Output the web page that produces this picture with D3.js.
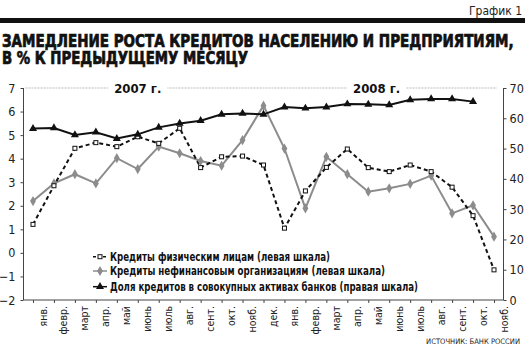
<!DOCTYPE html>
<html><head><meta charset="utf-8">
<script src="https://cdn.jsdelivr.net/npm/d3@7"></script>
<style>
html,body{margin:0;padding:0;background:#fff;}
svg{display:block;}
text{font-family:"DejaVu Sans Condensed","Liberation Sans",sans-serif;font-style:normal;}
text.nb{font-family:"Liberation Sans Narrow","DejaVu Sans Condensed","Liberation Sans",sans-serif;}
</style></head>
<body>
<script>
const months = ["янв.","февр.","март","апр.","май","июнь","июль","авг.","сент.","окт.","нояб.","дек.",
                "янв.","февр.","март","апр.","май","июнь","июль","авг.","сент.","окт.","нояб."];
const households = [1.21, 2.85, 4.44, 4.68, 4.51, 4.93, 4.65, 5.29, 3.62, 4.08, 4.11, 3.73,
                    1.05, 2.63, 3.63, 4.41, 3.62, 3.45, 3.73, 3.45, 2.79, 1.58, -0.72];
const corporates = [2.2, 2.95, 3.34, 2.95, 4.02, 3.56, 4.51, 4.23, 3.90, 3.70, 4.79, 6.25,
                    4.43, 1.89, 4.08, 3.34, 2.60, 2.74, 2.93, 3.28, 1.68, 2.02, 0.69];
const share = [56.6, 56.8, 54.5, 55.4, 53.3, 54.7, 57.0, 58.3, 59.2, 61.3, 61.6, 61.3,
               63.7, 63.3, 63.7, 64.7, 64.6, 64.4, 66.1, 66.4, 66.4, 65.5];
const leftTicks = [-2,-1,0,1,2,3,4,5,6,7];
const rightTicks = [0,10,20,30,40,50,60,70];
const years = [{label:"2007 г.", at:5.0},{label:"2008 г.", at:16.4}];
const legendLabels = ["Кредиты физическим лицам (левая шкала)",
                      "Кредиты нефинансовым организациям (левая шкала)",
                      "Доля кредитов в совокупных активах банков (правая шкала)"];
const title1 = "ЗАМЕДЛЕНИЕ РОСТА КРЕДИТОВ НАСЕЛЕНИЮ И ПРЕДПРИЯТИЯМ,";
const title2 = "В % К ПРЕДЫДУЩЕМУ МЕСЯЦУ";

const W = 525, H = 350;
const svg = d3.select("body").append("svg").attr("width", W).attr("height", H);

function fitFont(sel, maxW, start, stretch) {
  let fs = start;
  sel.attr("font-size", fs);
  let w = sel.node().getComputedTextLength();
  if (w > maxW) { fs = fs * maxW / w; sel.attr("font-size", fs); }
  else if (stretch) { sel.attr("textLength", maxW).attr("lengthAdjust","spacingAndGlyphs"); }
  return sel;
}

// header
fitFont(svg.append("text").attr("x", 522).attr("y", 14.5).attr("text-anchor","end")
  .attr("fill","#222").text("График 1"), 53, 13);
svg.append("rect").attr("x",0).attr("y",18).attr("width",W).attr("height",5).attr("fill","#111");
const t1 = svg.append("text").attr("class","nb").attr("x",0).attr("y",0).attr("font-weight","900")
  .attr("fill","#111").attr("stroke","#111").attr("stroke-width",0.6).text(title1);
fitFont(t1, 512, 18, true);
const fsTitle = +t1.attr("font-size");
const kY = Math.min(1.25, 18 / fsTitle);
t1.attr("transform", `translate(2,47) scale(1,${kY})`);
const t2 = svg.append("text").attr("class","nb").attr("x",0).attr("y",0).attr("font-weight","900")
  .attr("fill","#111").attr("stroke","#111").attr("stroke-width",0.6).text(title2);
fitFont(t2, 246, fsTitle, true);
t2.attr("transform", `translate(2,63.5) scale(1,${kY})`);

// scales
const x = d3.scalePoint().domain(d3.range(months.length)).range([33, 494]);
const yL = d3.scaleLinear().domain([-2, 7]).range([300, 88]);
const yR = d3.scaleLinear().domain([0, 70]).range([300, 88]);
const plotL = 23.5, plotR = 503.5;

// top dotted grid line
svg.append("line").attr("x1", plotL+2).attr("x2", 497).attr("y1", yL(7)).attr("y2", yL(7))
  .attr("stroke","#bbb").attr("stroke-width",1).attr("stroke-dasharray","2,1");

// year labels
years.forEach(yv => {
  const t = svg.append("text").attr("class","nb").attr("x", x(0) + yv.at*(x(1)-x(0))).attr("y", yL(7)+4.5)
    .attr("text-anchor","middle").attr("font-size",13).attr("font-weight","bold").attr("fill","#111")
    .text(yv.label);
  const bb = t.node().getBBox();
  svg.insert("rect", "text:last-of-type").attr("x", bb.x-6).attr("y", bb.y).attr("width", bb.width+12)
    .attr("height", bb.height).attr("fill","#fff");
});

// left axis
const gL = svg.append("g").attr("transform", `translate(${plotL},0)`)
  .call(d3.axisLeft(yL).tickValues(leftTicks).tickSize(3).tickPadding(5).tickFormat(d3.format("d")));
gL.select(".domain").remove();
gL.selectAll("line").attr("stroke","#444");
gL.selectAll("text").attr("font-size",12.5).attr("fill","#222").attr("font-family",null);
svg.append("line").attr("x1",plotL).attr("x2",plotL).attr("y1",yL(7)).attr("y2",yL(-2)).attr("stroke","#444");

// right axis
const gR = svg.append("g").attr("transform", `translate(${plotR},0)`)
  .call(d3.axisRight(yR).tickValues(rightTicks).tickSize(3).tickPadding(3).tickFormat(d3.format("d")));
gR.select(".domain").remove();
gR.selectAll("line").attr("stroke","#444");
gR.selectAll("text").attr("font-size",12.5).attr("fill","#222").attr("font-family",null);
svg.append("line").attr("x1",plotR).attr("x2",plotR).attr("y1",yR(70)).attr("y2",yR(0)).attr("stroke","#444");

// bottom axis
const gB = svg.append("g").attr("transform", `translate(0,${yL(-2)})`)
  .call(d3.axisBottom(x).tickSize(3).tickFormat(i => months[i]));
gB.select(".domain").remove();
gB.selectAll("line").attr("stroke","#444");
gB.selectAll("text").attr("font-size",10.5).attr("fill","#222").attr("font-family",null)
  .attr("text-anchor","end").attr("dominant-baseline","central")
  .attr("x",0).attr("y",0).attr("dy",null)
  .attr("transform","translate(9,6) rotate(-90)");
svg.append("line").attr("x1",plotL).attr("x2",plotR).attr("y1",yL(-2)).attr("y2",yL(-2)).attr("stroke","#444");

// series
const lineL = d3.line().x((d,i)=>x(i)).y(d=>yL(d));
const lineR = d3.line().x((d,i)=>x(i)).y(d=>yR(d));

svg.append("path").datum(corporates).attr("d", lineL).attr("fill","none")
  .attr("stroke","#8c8c8c").attr("stroke-width",2);
svg.append("path").datum(households).attr("d", lineL).attr("fill","none")
  .attr("stroke","#111").attr("stroke-width",2).attr("stroke-dasharray","4,3");
svg.append("path").datum(share).attr("d", lineR).attr("fill","none")
  .attr("stroke","#111").attr("stroke-width",2);

const diamond = d3.symbol().type(d3.symbolDiamond).size(30);
const tri = d3.symbol().type(d3.symbolTriangle).size(28);

svg.append("g").selectAll("path").data(corporates).join("path")
  .attr("transform",(d,i)=>`translate(${x(i)},${yL(d)})`).attr("d", diamond).attr("fill","#8c8c8c");
svg.append("g").selectAll("rect").data(households).join("rect")
  .attr("x",(d,i)=>x(i)-2).attr("y",d=>yL(d)-2).attr("width",4).attr("height",4)
  .attr("fill","#fff").attr("stroke","#111").attr("stroke-width",1);
svg.append("g").selectAll("path").data(share).join("path")
  .attr("transform",(d,i)=>`translate(${x(i)},${yR(d)})`).attr("d", tri).attr("fill","#111");

// legend
const legY = [256.7, 271, 286.7];
const legLen = [220, 275, 308];
const lg = svg.append("g");
legY.forEach((ly, k) => {
  const ln = lg.append("line").attr("x1",93).attr("x2",107).attr("y1",ly).attr("y2",ly).attr("stroke-width",1.5);
  if (k===0) { ln.attr("stroke","#111").attr("stroke-dasharray","3,2");
    lg.append("rect").attr("x",98).attr("y",ly-2).attr("width",4).attr("height",4).attr("fill","#fff").attr("stroke","#111"); }
  if (k===1) { ln.attr("stroke","#8c8c8c");
    lg.append("path").attr("transform",`translate(100,${ly})`).attr("d",diamond).attr("fill","#8c8c8c"); }
  if (k===2) { ln.attr("stroke","#111");
    lg.append("path").attr("transform",`translate(100,${ly})`).attr("d",tri).attr("fill","#111"); }
  lg.append("text").attr("class","nb").attr("x",110).attr("y",ly+4.3).attr("font-size",12.5).attr("font-weight","bold")
    .attr("fill","#111").attr("textLength",legLen[k]).attr("lengthAdjust","spacingAndGlyphs").text(legendLabels[k]);
});

// source
fitFont(svg.append("text").attr("x",520).attr("y",344).attr("text-anchor","end")
  .attr("fill","#222").text("ИСТОЧНИК: БАНК РОССИИ"), 94, 8.5);
</script>
</body></html>
